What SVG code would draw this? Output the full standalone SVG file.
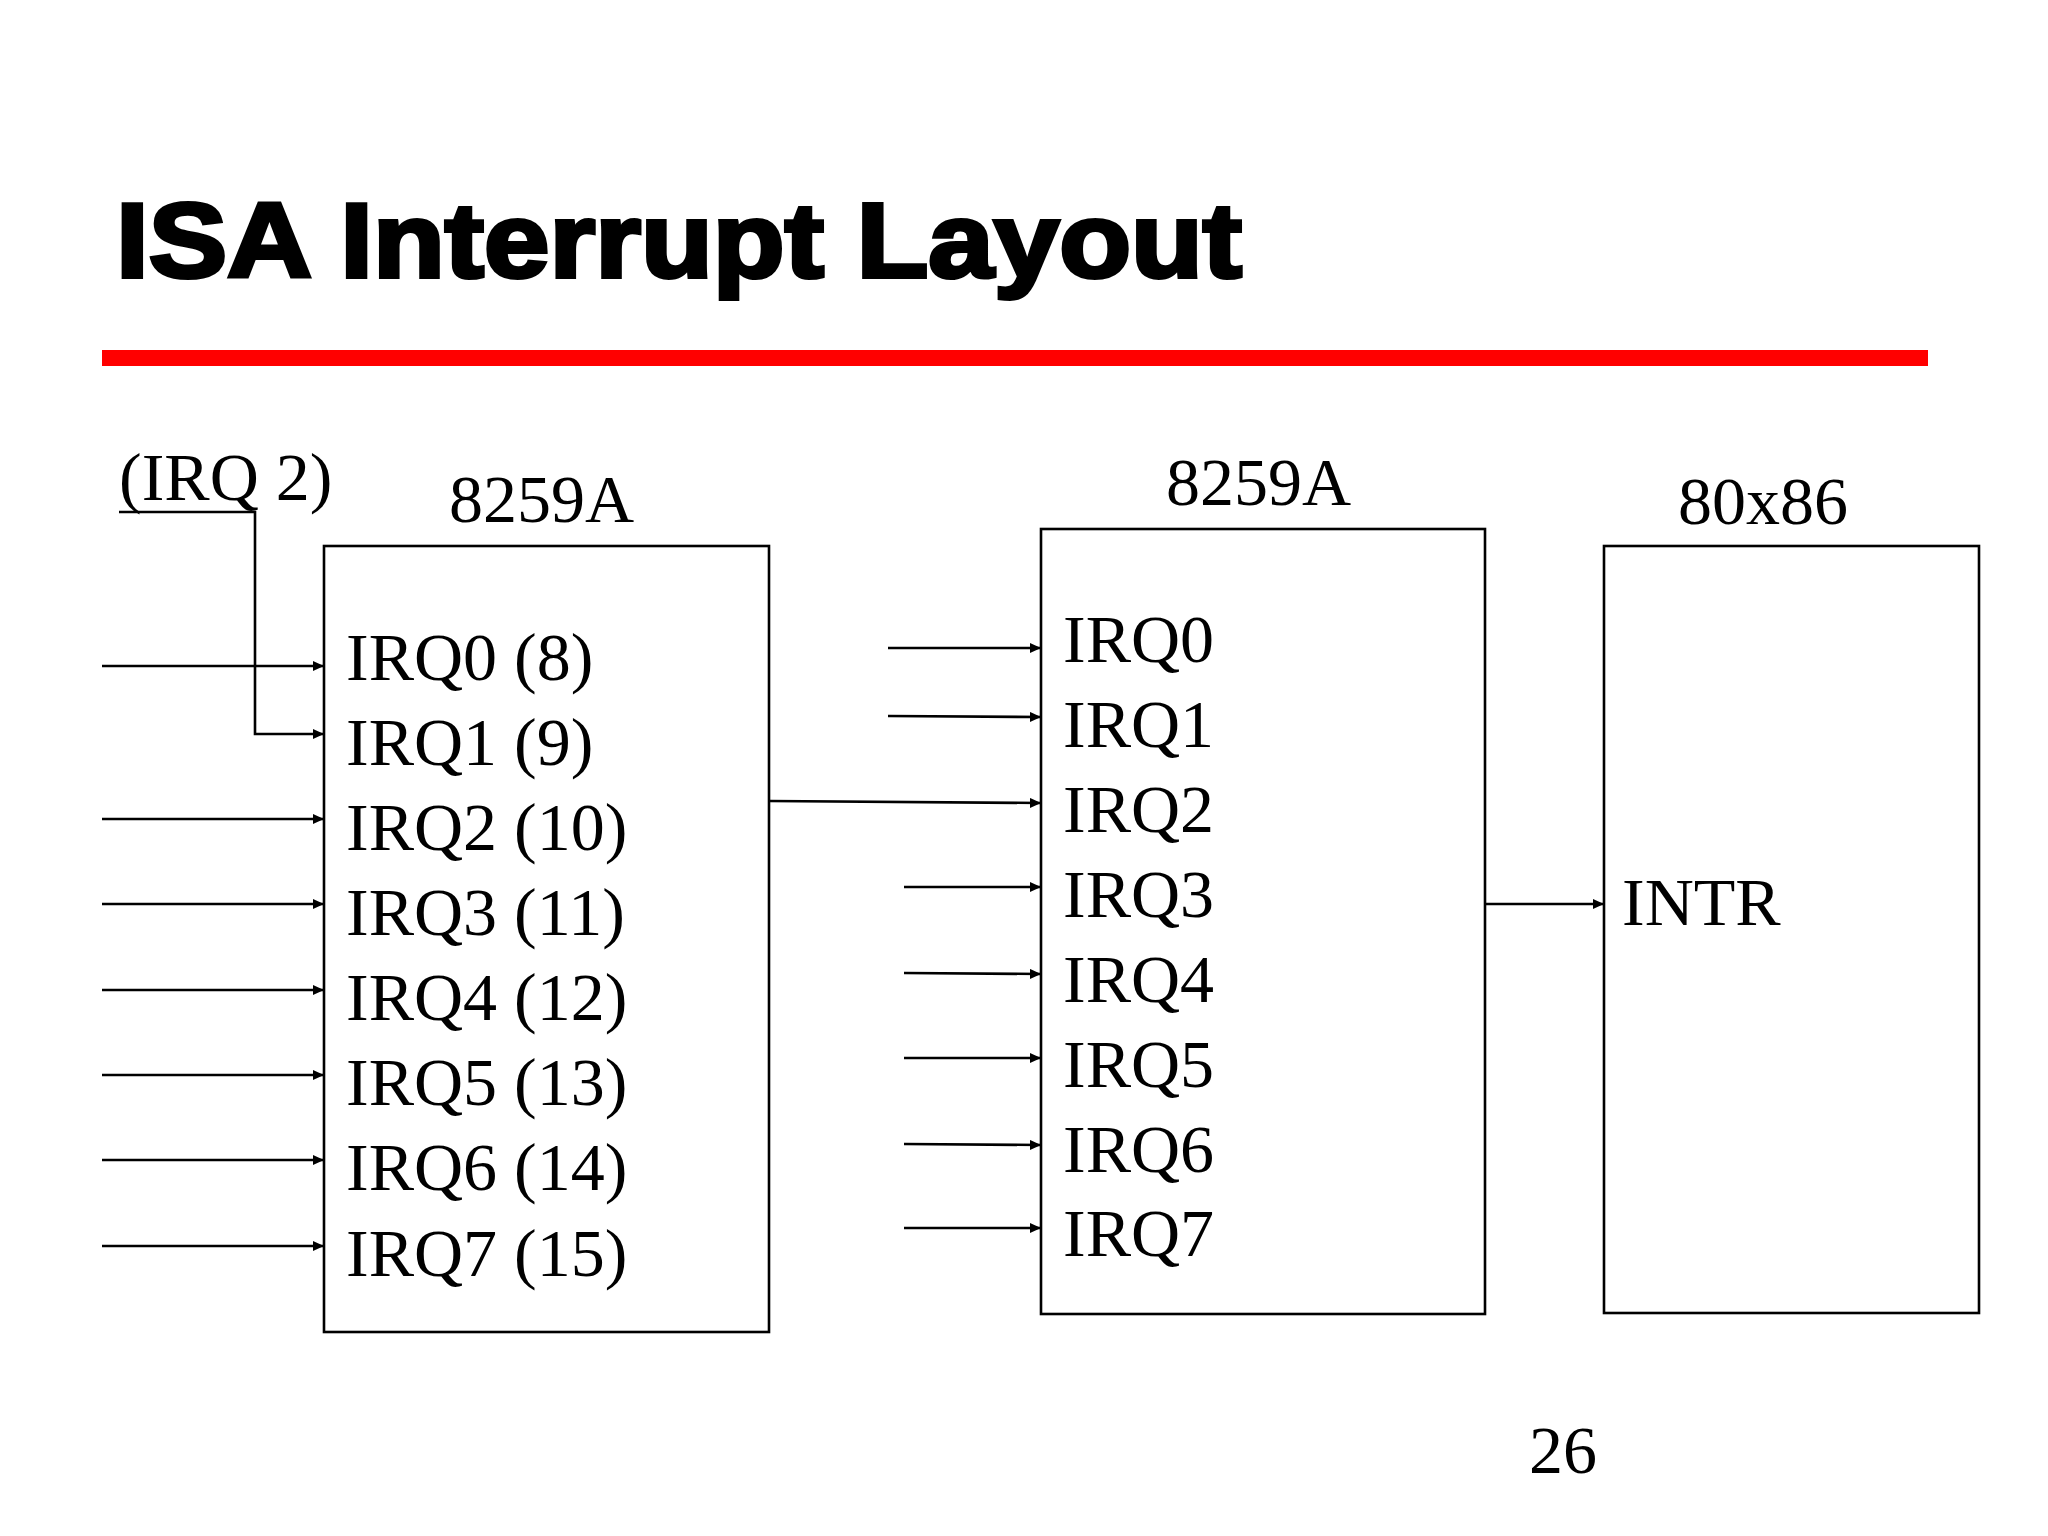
<svg xmlns="http://www.w3.org/2000/svg" width="2048" height="1536" viewBox="0 0 2048 1536">
<defs>
<style>
.t{font-family:"Liberation Serif","Times New Roman",serif;font-size:68px;fill:#000}
.box{fill:#fff;stroke:#000;stroke-width:2.6}
.ln{fill:none;stroke:#000;stroke-width:2.6}
.title{font-family:"Liberation Sans",Arial,sans-serif;font-weight:bold;font-size:105px;fill:#000;stroke:#000;stroke-width:4}
</style>
<marker id="ah" markerUnits="userSpaceOnUse" markerWidth="11" markerHeight="10" refX="11" refY="5" orient="auto">
<path d="M0,0 L11,5 L0,10 z" fill="#000"/>
</marker>
</defs>
<rect width="2048" height="1536" fill="#fff"/>
<g id="title">
<text class="title" x="116" y="277" textLength="1126" lengthAdjust="spacingAndGlyphs">ISA Interrupt Layout</text>
<rect x="102" y="350" width="1826" height="16" fill="#ff0000"/>
</g>
<g id="pic-slave">
<rect class="box" x="324" y="546" width="445" height="786"/>
<text class="t" x="449" y="522">8259A</text>
<text class="t" x="346" y="680">IRQ0 (8)</text>
<text class="t" x="346" y="765">IRQ1 (9)</text>
<text class="t" x="346" y="850">IRQ2 (10)</text>
<text class="t" x="346" y="935">IRQ3 (11)</text>
<text class="t" x="346" y="1020">IRQ4 (12)</text>
<text class="t" x="346" y="1105">IRQ5 (13)</text>
<text class="t" x="346" y="1190">IRQ6 (14)</text>
<text class="t" x="346" y="1276">IRQ7 (15)</text>
</g>
<g id="pic-master">
<rect class="box" x="1041" y="529" width="444" height="785"/>
<text class="t" x="1166" y="505">8259A</text>
<text class="t" x="1063" y="662">IRQ0</text>
<text class="t" x="1063" y="747">IRQ1</text>
<text class="t" x="1063" y="832">IRQ2</text>
<text class="t" x="1063" y="917">IRQ3</text>
<text class="t" x="1063" y="1002">IRQ4</text>
<text class="t" x="1063" y="1087">IRQ5</text>
<text class="t" x="1063" y="1172">IRQ6</text>
<text class="t" x="1063" y="1256">IRQ7</text>
</g>
<g id="cpu">
<rect class="box" x="1604" y="546" width="375" height="767"/>
<text class="t" x="1678" y="524">80x86</text>
<text class="t" x="1622" y="925">INTR</text>
</g>
<g id="irq2-label">
<text class="t" x="119" y="500">(IRQ 2)</text>
</g>
<g id="page">
<text class="t" x="1529" y="1473">26</text>
</g>
<g id="connectors">
<line class="ln" x1="102" y1="666" x2="324" y2="666" marker-end="url(#ah)"/>
<path class="ln" d="M119,512 H255 V734 H324" marker-end="url(#ah)"/>
<line class="ln" x1="102" y1="819" x2="324" y2="819" marker-end="url(#ah)"/>
<line class="ln" x1="102" y1="904" x2="324" y2="904" marker-end="url(#ah)"/>
<line class="ln" x1="102" y1="990" x2="324" y2="990" marker-end="url(#ah)"/>
<line class="ln" x1="102" y1="1075" x2="324" y2="1075" marker-end="url(#ah)"/>
<line class="ln" x1="102" y1="1160" x2="324" y2="1160" marker-end="url(#ah)"/>
<line class="ln" x1="102" y1="1246" x2="324" y2="1246" marker-end="url(#ah)"/>
<line class="ln" x1="888" y1="648" x2="1041" y2="648" marker-end="url(#ah)"/>
<line class="ln" x1="888" y1="716" x2="1041" y2="717" marker-end="url(#ah)"/>
<line class="ln" x1="769" y1="801" x2="1041" y2="803" marker-end="url(#ah)"/>
<line class="ln" x1="904" y1="887" x2="1041" y2="887" marker-end="url(#ah)"/>
<line class="ln" x1="904" y1="973" x2="1041" y2="974" marker-end="url(#ah)"/>
<line class="ln" x1="904" y1="1058" x2="1041" y2="1058" marker-end="url(#ah)"/>
<line class="ln" x1="904" y1="1144" x2="1041" y2="1145" marker-end="url(#ah)"/>
<line class="ln" x1="904" y1="1228" x2="1041" y2="1228" marker-end="url(#ah)"/>
<line class="ln" x1="1485" y1="904" x2="1604" y2="904" marker-end="url(#ah)"/>
</g>
</svg>
